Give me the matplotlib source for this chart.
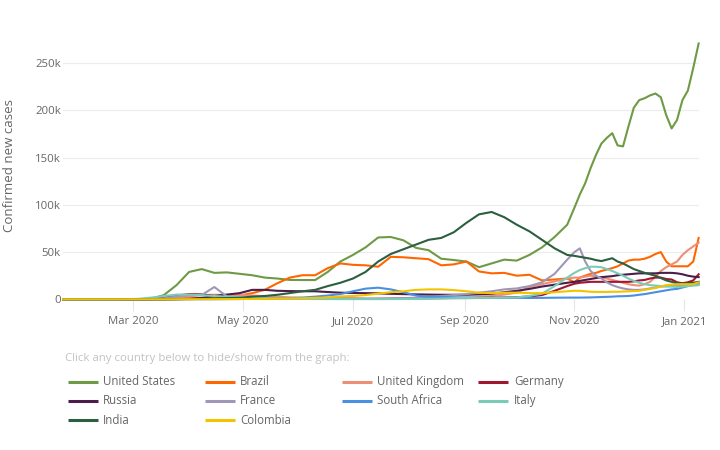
import matplotlib
matplotlib.use("Agg")
import matplotlib.pyplot as plt
import matplotlib.dates as mdates
from matplotlib.lines import Line2D
from matplotlib.ticker import FuncFormatter
import pandas as pd

plt.rcParams['font.family'] = ['Open Sans', 'DejaVu Sans']

# weekly points up to end of October, then every 3 days
dates = pd.date_range('2020-01-22', '2020-10-28', freq='7D').append(
    pd.date_range('2020-11-01', '2021-01-09', freq='3D'))

# confirmed new cases (7-day average), in thousands
united_states = [0, 0, 0, 0, 0, 0, 0.1, 0.5, 4.5, 15, 29, 32, 28, 28.5, 27, 25.5, 23, 22, 20.5,
                 20.4, 20.4, 29, 40, 47, 55, 65.5, 66, 62.5, 54.5, 52, 43, 41.6, 40, 34, 38, 42,
                 41, 47, 55, 66, 79,
                 97, 111, 123, 139, 153, 165, 171, 176, 163, 162, 183, 203, 211, 213, 216, 218,
                 214, 195, 181, 190, 211, 221, 245, 271]
brazil = [0, 0, 0, 0, 0, 0, 0, 0.01, 0.05, 0.3, 0.8, 1.3, 1.9, 2.8, 4, 6.5, 10, 17, 23, 25.5,
          25.5, 33, 38, 36.5, 36, 34.5, 45, 44.5, 43.5, 42.5, 36, 37, 40, 29.5, 27.5, 28, 25, 26,
          20, 21, 22,
          18, 23, 25, 27, 28, 30, 31.5, 33, 35, 38, 41, 42, 42, 43, 45, 48, 50, 40, 35, 35, 35,
          35, 40, 65]
united_kingdom = [0, 0, 0, 0, 0, 0, 0.01, 0.05, 0.4, 1.2, 3, 4.5, 4.8, 4.5, 4.5, 4, 3.3, 2.8, 2,
                  1.5, 1.2, 1.1, 0.9, 0.8, 0.6, 0.6, 0.7, 0.8, 0.9, 1, 1.1, 1.2, 1.4, 2.5, 3.5, 5,
                  7, 13, 16, 19, 22,
                  23, 23, 24, 25, 24, 23, 22, 20.5, 19, 17.5, 16, 15, 14.5, 16, 18.5, 24, 30, 34,
                  37, 40, 47, 52, 56, 60]
germany = [0, 0, 0, 0, 0, 0, 0.03, 0.3, 1.5, 4, 5.5, 5.2, 3.5, 2, 1.2, 1, 0.8, 0.6, 0.5, 0.4,
           0.35, 0.5, 0.6, 0.5, 0.4, 0.4, 0.5, 0.7, 0.9, 1.2, 1.4, 1.4, 1.3, 1.4, 1.7, 1.9, 2.2,
           3, 4.5, 9, 14,
           16.5, 17.5, 18, 18.5, 18.5, 18.5, 18.5, 18.5, 18.5, 18.5, 18.5, 19, 20, 20.5, 22, 23,
           23, 21.5, 21, 18, 17, 18, 20, 26.5]
russia = [0, 0, 0, 0, 0, 0, 0, 0, 0.02, 0.1, 0.5, 1.5, 3.5, 5, 6.5, 10, 10, 9, 8.7, 8.5, 8.5,
          7.7, 7, 6.7, 6.5, 6.3, 5.8, 5.5, 5.2, 5, 4.8, 4.8, 4.8, 5.2, 5.8, 7.5, 9, 11, 13.5,
          15.5, 17.5,
          18.5, 19.5, 20.5, 21.5, 22.5, 23.5, 24, 24.5, 25.5, 26, 26.5, 27, 27.5, 27.5, 27.5,
          27.5, 28, 28, 28, 27.5, 26.5, 25, 24, 23.5]
france = [0, 0, 0, 0, 0, 0, 0.05, 0.3, 1, 3, 4.5, 4.5, 13, 3, 1.5, 1.2, 0.8, 0.4, 0.4, 0.5, 0.5,
          0.5, 0.7, 0.6, 0.6, 0.7, 0.9, 1.2, 1.7, 2.5, 3.5, 4.5, 5.5, 7, 8.5, 10.5, 11.5, 14, 18,
          27, 42,
          50, 54, 40, 30, 25, 22, 18, 15, 13, 11.5, 10.5, 10, 10, 10.5, 11.5, 12.5, 13.5, 14, 14,
          14, 14.5, 15, 15, 16]
south_africa = [0, 0, 0, 0, 0, 0, 0, 0, 0.02, 0.1, 0.1, 0.05, 0.1, 0.2, 0.3, 0.5, 0.8, 1, 1.3,
                1.8, 2.8, 4, 5.5, 8.5, 11.3, 12.3, 10.5, 7.5, 4, 2.6, 2.5, 2.2, 2, 1.5, 1.5, 1.6,
                1.6, 1.4, 1.5, 1.7, 1.8,
                1.8, 1.8, 1.9, 2, 2.2, 2.4, 2.6, 2.8, 3.2, 3.3, 3.5, 4, 4.8, 5.5, 6.5, 7.5, 8.5,
                9.5, 10.5, 11, 12.5, 14, 15.5, 17.5]
italy = [0, 0, 0, 0, 0, 0.1, 0.5, 1.8, 3.5, 5, 5, 4.2, 3.5, 2.8, 2.2, 1.5, 1, 0.7, 0.5, 0.4,
         0.3, 0.25, 0.2, 0.2, 0.2, 0.2, 0.25, 0.3, 0.35, 0.5, 0.8, 1.2, 1.4, 1.5, 1.5, 1.7, 2,
         3.5, 6, 14, 23,
         28, 31, 33, 34.5, 34.5, 34, 32, 30, 27.5, 25, 22, 19.5, 17.5, 16, 15, 14.5, 14, 13.5,
         13.5, 13, 13.5, 14, 14.5, 15]
india = [0, 0, 0, 0, 0, 0, 0, 0, 0.02, 0.07, 0.2, 0.5, 0.9, 1.3, 1.6, 2.8, 3.5, 4.8, 6.6, 8.5,
         10, 14, 17.5, 22, 29, 40, 48, 53, 58, 63, 65, 71, 81, 90, 92.5, 87, 79, 72, 63, 54, 47,
         46, 45, 44, 43, 41.5, 40.5, 42, 43.5, 40, 38, 35, 32, 30, 28, 26.5, 25, 22.5, 20, 18.5,
         17, 16.5, 17, 17.5, 18.5]
colombia = [0, 0, 0, 0, 0, 0, 0, 0.01, 0.02, 0.05, 0.1, 0.1, 0.15, 0.2, 0.3, 0.4, 0.5, 0.7, 0.9,
            1.1, 1.5, 2, 3, 3.5, 4.5, 6, 7.5, 8.5, 10, 10.5, 10.5, 9.8, 8.5, 7, 6.5, 7, 7, 6.5,
            6.5, 7.5, 8.5,
            9, 9, 8.5, 8, 7.8, 7.8, 7.8, 8, 8, 8.2, 8.5, 8.7, 9, 10, 11, 12, 13.5, 15, 15.5, 16,
            16, 16, 16, 18]

countries = ['United States', 'Brazil', 'United Kingdom', 'Germany', 'Russia', 'France',
             'South Africa', 'Italy', 'India', 'Colombia']
series = [united_states, brazil, united_kingdom, germany, russia, france, south_africa,
          italy, india, colombia]
colors = ['#6f9a45', '#ff6600', '#ec8f77', '#a0172f', '#4a1d4a', '#a096b6', '#4990e2',
          '#7ccbb7', '#2c5f3f', '#f4c300']

W, H = 720, 450
fig = plt.figure(figsize=(7.2, 4.5), dpi=100)
ax_left, ax_right, ax_top, ax_bottom = 63.1, 699, 40, 299.3
ax = fig.add_axes([ax_left / W, 1 - ax_bottom / H, (ax_right - ax_left) / W,
                   (ax_bottom - ax_top) / H])

for name, values, color in zip(countries, series, colors):
    ax.plot(dates, values, color=color, lw=1.5, label=name, clip_on=False)

ax.set_xlim(pd.Timestamp('2020-01-22'), pd.Timestamp('2020-01-22') + pd.Timedelta(days=353.2))
ax.set_ylim(0, (ax_bottom - ax_top) / 47.2 * 50)
ax.set_yticks([0, 50, 100, 150, 200, 250])
ax.yaxis.set_major_formatter(FuncFormatter(lambda v, p: '0' if v == 0 else f'{v:g}k'))
ax.xaxis.set_major_locator(mdates.MonthLocator(bymonth=[1, 3, 5, 7, 9, 11]))
ax.xaxis.set_major_formatter(mdates.DateFormatter('%b %Y'))

for s in ax.spines.values():
    s.set_visible(False)
ax.grid(axis='y', color='#ececec', lw=0.8)
ax.set_axisbelow(True)
ax.tick_params(axis='y', length=0, pad=1.5, labelsize=8.2, labelcolor='#666666')
ax.tick_params(axis='x', direction='out', length=8.5, width=0.8, color='#e6e6e6', pad=3.5,
               labelsize=8.2, labelcolor='#666666')

fig.text(10 / W, 1 - 165 / H, 'Confirmed new cases', rotation=90, ha='center', va='center',
         fontsize=9.5, color='#666666')

# legend laid out as in the page: four columns, row by row
fig.text(65 / W, 1 - 358 / H, 'Click any country below to hide/show from the graph:',
         ha='left', va='center', fontsize=8.2, color='#c2c2c2')
for i, (name, color) in enumerate(zip(countries, colors)):
    r, c = divmod(i, 4)
    x0 = 67.7 + c * 136.9
    y = 381.7 + r * 19.2
    fig.add_artist(Line2D([x0 / W, (x0 + 30) / W], [1 - y / H, 1 - y / H], color=color,
                          lw=2.2, solid_capstyle='butt'))
    fig.text((x0 + 35.6) / W, 1 - y / H, name, ha='left', va='center', fontsize=8.3,
             color='#666666')

fig.savefig('out.png', dpi=100)
